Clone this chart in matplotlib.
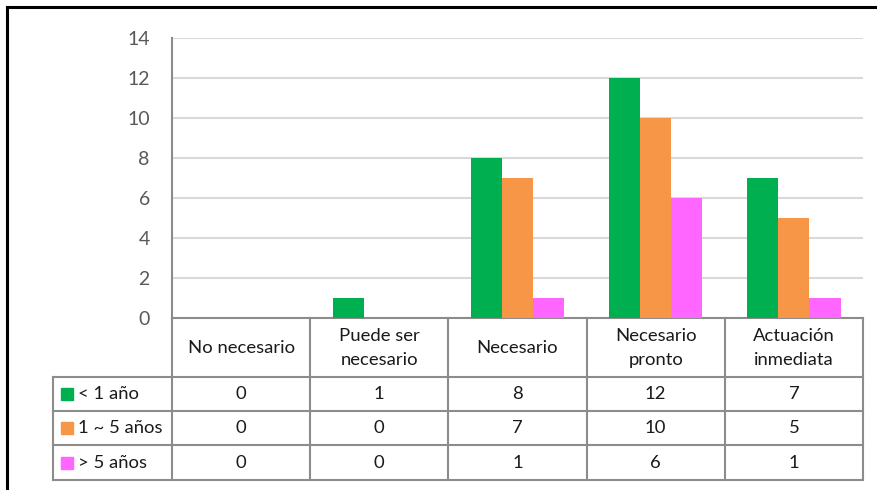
import numpy as np
import matplotlib.pyplot as plt
from matplotlib.lines import Line2D

# datos
categorias = ["No necesario", "Puede ser\nnecesario", "Necesario",
              "Necesario\npronto", "Actuación\ninmediata"]
series = ["< 1 año", "1 ~ 5 años", "> 5 años"]
menos_1 = [0, 1, 8, 12, 7]
de_1_a_5 = [0, 0, 7, 10, 5]
mas_5 = [0, 0, 1, 6, 1]
colores = ["#00B050", "#F79646", "#FF66FF"]

plt.rcParams["font.family"] = ["Lato", "DejaVu Sans"]

W, H = 878, 490
fig = plt.figure(figsize=(W / 100, H / 100), dpi=100)


def caja(x0, y0, x1, y1):
    # pixeles -> fraccion de figura
    return [x0 / W, 1 - y1 / H, (x1 - x0) / W, (y1 - y0) / H]


gris = "#8C8C8C"
fs = 13.3

# marco negro
fig.add_artist(Line2D([7 / W, 7 / W], [0, 1 - 7 / H], color="black", lw=2.2))
fig.add_artist(Line2D([7 / W, 1], [1 - 7 / H, 1 - 7 / H], color="black", lw=2.2))

# grafico de barras
ax = fig.add_axes(caja(172, 38, 863, 318))
x = np.arange(len(categorias))
ancho = 0.225
valores = [menos_1, de_1_a_5, mas_5]
for k, (vals, col) in enumerate(zip(valores, colores)):
    ax.bar(x + (k - 1) * ancho, vals, ancho, color=col, zorder=3)

ax.set_xlim(-0.5, len(categorias) - 0.5)
ax.set_ylim(0, 14)
ax.set_yticks(range(0, 15, 2))
ax.set_xticks([])
ax.grid(axis="y", color="#D9D9D9", lw=1.5, zorder=0)
ax.tick_params(axis="y", length=0, pad=16, labelsize=14, labelcolor="#595959")
for s in ["top", "right"]:
    ax.spines[s].set_visible(False)
ax.spines["left"].set_color(gris)
ax.spines["bottom"].set_color(gris)
ax.spines["left"].set_linewidth(1.5)
ax.spines["bottom"].set_linewidth(1.5)

# tabla de datos
tab = fig.add_axes(caja(53, 318, 863, 481))
izq = -0.5 - (172 - 53) / 138.2
tab.set_xlim(izq, len(categorias) - 0.5)
tab.set_ylim(481, 318)
tab.axis("off")

filas = [377, 411, 445, 480]
for xc in np.arange(-0.5, len(categorias), 1.0):
    tab.plot([xc, xc], [318, 480], color=gris, lw=1.5, clip_on=False)
tab.plot([izq, izq], [377, 480], color=gris, lw=1.5, clip_on=False)
for yf in filas:
    tab.plot([izq, len(categorias) - 0.5], [yf, yf], color=gris, lw=1.5, clip_on=False)

for i, cat in enumerate(categorias):
    tab.text(i, 348, cat, ha="center", va="center", fontsize=fs,
             linespacing=1.6, color="#1A1A1A")

for r, (nombre, vals, col) in enumerate(zip(series, valores, colores)):
    yc = (filas[r] + filas[r + 1]) / 2
    tab.plot(izq + 0.1, yc, marker="s", ms=8.5, color=col, clip_on=False)
    tab.text(izq + 0.18, yc, nombre, ha="left", va="center", fontsize=fs,
             color="#1A1A1A")
    for i, v in enumerate(vals):
        tab.text(i, yc, str(v), ha="center", va="center", fontsize=fs,
                 color="#1A1A1A")

fig.savefig("out.png", dpi=100)
